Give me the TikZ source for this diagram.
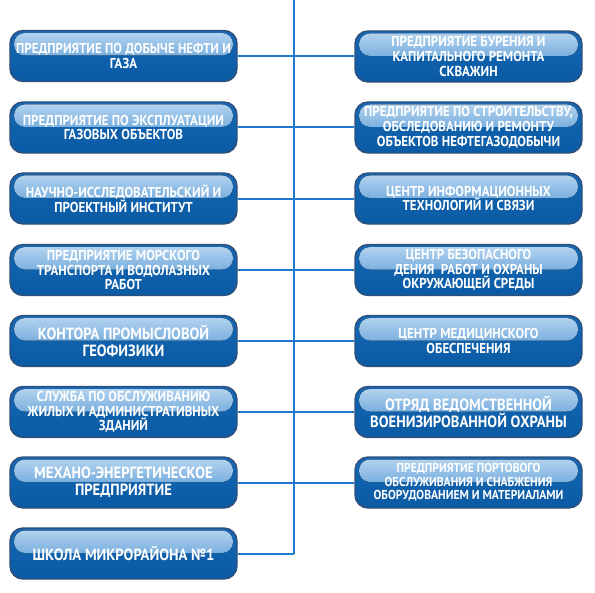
\documentclass[tikz,border=0pt]{standalone}
\usepackage{fontspec}
\setmainfont{PT Sans}[FakeStretch=0.9]
\usetikzlibrary{calc}
\definecolor{spine}{HTML}{1F78C8}
\definecolor{boxtop}{HTML}{1668B4}
\definecolor{boxbot}{HTML}{0A5AA4}
\definecolor{boxedge}{HTML}{30507A}
\definecolor{glosstop}{HTML}{B8D6F0}
\definecolor{glossbot}{HTML}{3A88CE}
\tikzset{
  orgbox/.style={draw=boxedge, line width=1.4bp, rounded corners=13bp,
    minimum width=227bp, minimum height=51bp, inner sep=0pt, align=center,
    text=white, font=\bfseries\fontsize{14.4}{14.8}\selectfont,
    top color=boxtop, bottom color=boxbot,
    path picture={
      \fill[rounded corners=11bp, top color=glosstop, bottom color=glossbot]
        ($(path picture bounding box.north west)+(4bp,-2.5bp)$) rectangle
        ($(path picture bounding box.north east)+(-4bp,-25bp)$);
    }},
  bigtext/.style={font=\bfseries\fontsize{16.3}{17}\selectfont},
  smalltext/.style={font=\bfseries\fontsize{13}{13.6}\selectfont},
  link/.style={draw=spine, line width=2bp}
}
\begin{document}
\begin{tikzpicture}[x=1bp,y=-1bp]
\useasboundingbox (0,0) rectangle (595,593);
\coordinate (top) at (294,0);
\coordinate (bot) at (294,553.5);
% left column
\node[orgbox] (l1) at (123.5,56) {ПРЕДПРИЯТИЕ ПО ДОБЫЧЕ НЕФТИ И\\ГАЗА};
\node[orgbox] (l2) at (123.5,127.5) {ПРЕДПРИЯТИЕ ПО ЭКСПЛУАТАЦИИ\\ГАЗОВЫХ ОБЪЕКТОВ};
\node[orgbox] (l3) at (123.5,198.5) {НАУЧНО-ИССЛЕДОВАТЕЛЬСКИЙ И\\ПРОЕКТНЫЙ ИНСТИТУТ};
\node[orgbox] (l4) at (123.5,270) {ПРЕДПРИЯТИЕ МОРСКОГО\\ТРАНСПОРТА И ВОДОЛАЗНЫХ\\РАБОТ};
\node[orgbox,bigtext] (l5) at (123.5,341) {КОНТОРА ПРОМЫСЛОВОЙ\\ГЕОФИЗИКИ};
\node[orgbox] (l6) at (123.5,412) {СЛУЖБА ПО ОБСЛУЖИВАНИЮ\\ЖИЛЫХ И АДМИНИСТРАТИВНЫХ\\ЗДАНИЙ};
\node[orgbox,bigtext] (l7) at (123.5,482.5) {МЕХАНО-ЭНЕРГЕТИЧЕСКОЕ\\ПРЕДПРИЯТИЕ};
\node[orgbox,bigtext] (l8) at (123.5,553.5) {ШКОЛА МИКРОРАЙОНА №1};
% right column
\node[orgbox] (r1) at (468.5,56.5) {ПРЕДПРИЯТИЕ БУРЕНИЯ И\\КАПИТАЛЬНОГО РЕМОНТА\\СКВАЖИН};
\node[orgbox] (r2) at (468.5,127.5) {ПРЕДПРИЯТИЕ ПО СТРОИТЕЛЬСТВУ,\\ОБСЛЕДОВАНИЮ И РЕМОНТУ\\ОБЪЕКТОВ НЕФТЕГАЗОДОБЫЧИ};
\node[orgbox] (r3) at (468.5,198.5) {ЦЕНТР ИНФОРМАЦИОННЫХ\\ТЕХНОЛОГИЙ И СВЯЗИ};
\node[orgbox] (r4) at (468.5,270) {ЦЕНТР БЕЗОПАСНОГО\\ДЕНИЯ\ \ РАБОТ И ОХРАНЫ\\ОКРУЖАЮЩЕЙ СРЕДЫ};
\node[orgbox] (r5) at (468.5,341) {ЦЕНТР МЕДИЦИНСКОГО\\ОБЕСПЕЧЕНИЯ};
\node[orgbox,bigtext] (r6) at (468.5,412) {ОТРЯД ВЕДОМСТВЕННОЙ\\ВОЕНИЗИРОВАННОЙ ОХРАНЫ};
\node[orgbox,smalltext] (r7) at (468.5,482.5) {ПРЕДПРИЯТИЕ ПОРТОВОГО\\ОБСЛУЖИВАНИЯ И СНАБЖЕНИЯ\\ОБОРУДОВАНИЕМ И МАТЕРИАЛАМИ};
% connectors
\draw[link] (top) -- (bot);
\foreach \n in {l1,l2,l3,l4,l5,l6,l7} \draw[link] (\n.east) -- (\n.east -| top);
\draw[link] (l8.east) -- (bot);
\foreach \n in {r1,r2,r3,r4,r5,r6,r7} \draw[link] (\n.west) -- (\n.west -| top);
\end{tikzpicture}
\end{document}
